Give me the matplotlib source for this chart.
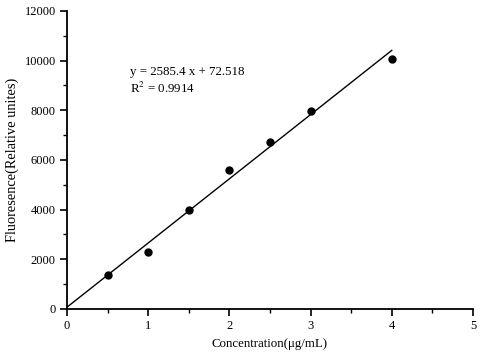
import matplotlib
matplotlib.use("Agg")
import matplotlib.pyplot as plt
import numpy as np
from matplotlib.ticker import MultipleLocator

conc = [0.5, 1.0, 1.5, 2.0, 2.5, 3.0, 4.0]
fluor = [1370, 2300, 3985, 5595, 6725, 7970, 10070]
slope = 2585.4
intercept = 72.518
r2 = 0.9914
fit_x = [0.0, 4.0]

plt.rcParams['font.family'] = ['Liberation Serif', 'DejaVu Serif']
plt.rcParams['font.size'] = 9.3
plt.rcParams['mathtext.fontset'] = 'stix'

fig = plt.figure(figsize=(4.8, 3.6), dpi=100)
ax = fig.add_axes([0.1396, 0.1417, 0.8458, 0.8278])

fx = np.array(fit_x)
ax.plot(fx, slope * fx + intercept, color='black', lw=1.0)
ax.plot(conc, fluor, 'o', color='black', ms=5)

ax.set_xlim(0, 5)
ax.set_ylim(0, 12000)
ax.xaxis.set_major_locator(MultipleLocator(1))
ax.xaxis.set_minor_locator(MultipleLocator(0.5))
ax.yaxis.set_major_locator(MultipleLocator(2000))
ax.yaxis.set_minor_locator(MultipleLocator(1000))
for s in ['top', 'right']:
    ax.spines[s].set_visible(False)
for s in ['left', 'bottom']:
    ax.spines[s].set_linewidth(1.3)
ax.tick_params(which='major', direction='out', length=5, width=1.2, labelsize=9, pad=3)
ax.tick_params(which='minor', direction='out', length=3, width=1.0)

ax.set_xlabel('Concentration(μg/mL)', fontsize=9.3)
ax.set_ylabel('Fluoresence(Relative unites)', fontsize=10.4)

ax.text(0.78, 9550, f'y = {slope} x + {intercept}', ha='left', va='center', fontsize=9.3)
ax.text(0.78, 8900, 'R$^{2}$ = ' + f'{r2}', ha='left', va='center', fontsize=9.3)

fig.savefig('out.png', dpi=100)
